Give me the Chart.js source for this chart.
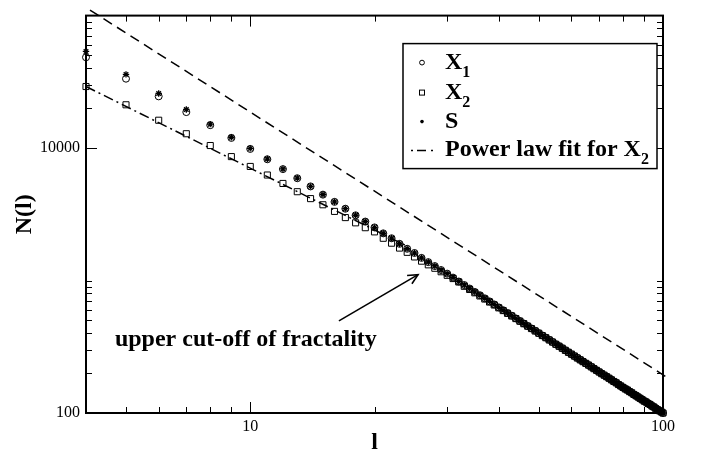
<!DOCTYPE html>
<html>
<head>
<meta charset="utf-8">
<script src="https://cdn.jsdelivr.net/npm/chart.js@4/dist/chart.umd.min.js"></script>
<style>
  html, body { margin: 0; padding: 0; background: #fff; }
  canvas { display: block; }
</style>
</head>
<body>
<canvas id="nl-canvas" width="701" height="457"></canvas>
<script>
// box size l
const lValues = [
  4, 5, 6, 7, 8, 9,
  10, 11, 12, 13, 14, 15, 16, 17, 18, 19,
  20, 21, 22, 23, 24, 25, 26, 27, 28, 29,
  30, 31, 32, 33, 34, 35, 36, 37, 38, 39,
  40, 41, 42, 43, 44, 45, 46, 47, 48, 49,
  50, 51, 52, 53, 54, 55, 56, 57, 58, 59,
  60, 61, 62, 63, 64, 65, 66, 67, 68, 69,
  70, 71, 72, 73, 74, 75, 76, 77, 78, 79,
  80, 81, 82, 83, 84, 85, 86, 87, 88, 89,
  90, 91, 92, 93, 94, 95, 96, 97, 98, 99,
  100
];

// N(l)
const x1Values = [
  48450, 33400, 24570, 18690, 14890, 11930,
  9850, 8230, 6935, 5920, 5135, 4450, 3925, 3485, 3107, 2787,
  2517, 2271, 2085, 1892, 1737, 1614, 1482, 1377, 1286, 1200,
  1127, 1052, 983, 925, 870, 820, 775, 734, 696, 660,
  627, 597, 569, 543, 518, 495, 474, 454, 435, 418,
  401, 385, 371, 357, 344, 331, 320, 309, 298, 288,
  278, 269, 261, 252, 245, 237, 230, 223, 217, 210,
  204, 199, 193, 188, 183, 178, 173, 169, 164, 160,
  156, 152, 149, 145, 142, 138, 135, 132, 129, 126,
  123, 121, 118, 116, 113, 111, 109, 106, 104, 102,
  100
];

const x2Values = [
  29150, 21220, 16220, 12830, 10450, 8620,
  7265, 6260, 5405, 4683, 4153, 3732, 3326, 2986, 2727, 2505,
  2330, 2085, 1914, 1758, 1633, 1507, 1400, 1314, 1238, 1165,
  1095, 1035, 975, 905, 856, 808, 765, 725, 688, 654,
  622, 593, 565, 540, 516, 493, 472, 452, 434, 416,
  400, 384, 370, 356, 343, 330, 319, 308, 297, 287,
  278, 269, 260, 252, 244, 237, 230, 223, 216, 210,
  204, 198, 193, 188, 183, 178, 173, 169, 164, 160,
  156, 152, 149, 145, 142, 138, 135, 132, 129, 126,
  123, 121, 118, 116, 113, 111, 108, 106, 104, 102,
  100
];

const sValues = [
  53650, 36000, 25850, 19570, 15150, 12070,
  9950, 8260, 6960, 5935, 5140, 4460, 3930, 3490, 3110, 2790,
  2520, 2275, 2088, 1895, 1740, 1616, 1484, 1379, 1288, 1202,
  1128, 1053, 984, 926, 871, 821, 776, 735, 697, 661,
  627, 597, 569, 543, 518, 495, 474, 454, 435, 418,
  401, 385, 371, 357, 344, 331, 320, 309, 298, 288,
  278, 269, 261, 252, 245, 237, 230, 223, 217, 210,
  204, 199, 193, 188, 183, 178, 173, 169, 164, 160,
  156, 152, 149, 145, 142, 138, 135, 132, 129, 126,
  123, 121, 118, 116, 113, 111, 109, 106, 104, 102,
  100
];

// straight lines (end points)
const fitX = [4, 24];
const fitY = [29150, 1816];
const guideX = [4.09, 102.8];
const guideY = [110100, 184];

// axis ticks
const xTickLabels = [10, 100];
const xMinorTicks = [5, 6, 7, 8, 9, 20, 30, 40, 50, 60, 70, 80, 90];
const yTickLabels = [100, 10000];
const yMinorTicks = [200, 300, 400, 500, 600, 700, 800, 900, 1000,
  20000, 30000, 40000, 50000, 60000, 70000, 80000, 90000];

// annotation: text anchor and arrow (data coords)
const noteText = 'upper cut-off of fractality';
const notePos = [4.7, 318];
const arrowFrom = [16.4, 496];
const arrowTo = [25.5, 1108];

const SERIF = '"Liberation Serif", "Times New Roman", serif';

function pts(xs, ys) {
  return xs.map(function (v, i) { return { x: v, y: ys[i] }; });
}

// frame + inward ticks, drawn under the markers
const framePlugin = {
  id: 'frame',
  beforeDatasetsDraw: function (chart) {
    const ctx = chart.ctx, a = chart.chartArea;
    const x = chart.scales.x, y = chart.scales.y;
    ctx.save();
    ctx.strokeStyle = '#000';
    ctx.lineWidth = 1;
    function seg(x0, y0, x1, y1) {
      ctx.beginPath(); ctx.moveTo(x0, y0); ctx.lineTo(x1, y1); ctx.stroke();
    }
    function xt(v, len) {
      const p = Math.round(x.getPixelForValue(v)) + 0.5;
      seg(p, a.bottom, p, a.bottom - len);
      seg(p, a.top, p, a.top + len);
    }
    function yt(v, len) {
      const p = Math.round(y.getPixelForValue(v)) + 0.5;
      seg(a.left, p, a.left + len, p);
      seg(a.right, p, a.right - len, p);
    }
    xMinorTicks.forEach(function (v) { xt(v, 6); });
    xTickLabels.forEach(function (v) { xt(v, 11); });
    yMinorTicks.forEach(function (v) { yt(v, 6); });
    yTickLabels.forEach(function (v) { yt(v, 11); });
    ctx.lineWidth = 2;
    ctx.strokeRect(a.left, a.top, a.right - a.left, a.bottom - a.top);
    ctx.restore();
  }
};

// legend box and annotation
const notePlugin = {
  id: 'notes',
  afterDraw: function (chart) {
    const ctx = chart.ctx, a = chart.chartArea;
    const x = chart.scales.x, y = chart.scales.y;
    ctx.save();
    ctx.strokeStyle = '#000';
    ctx.fillStyle = '#000';

    // legend
    const bx = a.right - 260, by = a.top + 28, bw = 254, bh = 125;
    ctx.fillStyle = '#fff';
    ctx.fillRect(bx, by, bw, bh);
    ctx.fillStyle = '#000';
    ctx.lineWidth = 1.5;
    ctx.strokeRect(bx, by, bw, bh);

    const mx = bx + 19, tx = bx + 42;
    const rows = [by + 25, by + 55, by + 84, by + 112];
    ctx.lineWidth = 1;
    ctx.beginPath(); ctx.arc(mx, rows[0] - 6, 2.4, 0, Math.PI * 2); ctx.stroke();
    ctx.strokeRect(mx - 2.5, rows[1] - 8.5, 5, 5);
    ctx.beginPath(); ctx.arc(mx, rows[2] - 6, 1.8, 0, Math.PI * 2); ctx.fill();
    ctx.lineWidth = 1.5;
    ctx.setLineDash([2, 4, 9, 5]);
    ctx.beginPath(); ctx.moveTo(mx - 11, rows[3] - 5); ctx.lineTo(mx + 12, rows[3] - 5); ctx.stroke();
    ctx.setLineDash([]);

    function subText(main, sub, px, py) {
      ctx.font = 'bold 24px ' + SERIF;
      ctx.fillText(main, px, py);
      const w = ctx.measureText(main).width;
      if (sub) {
        ctx.font = 'bold 16px ' + SERIF;
        ctx.fillText(sub, px + w, py + 8);
      }
    }
    ctx.textBaseline = 'alphabetic';
    ctx.textAlign = 'left';
    subText('X', '1', tx, rows[0]);
    subText('X', '2', tx, rows[1]);
    subText('S', '', tx, rows[2]);
    subText('Power law fit for X', '2', tx, rows[3]);

    // annotation text
    ctx.font = 'bold 24px ' + SERIF;
    ctx.fillText(noteText, x.getPixelForValue(notePos[0]), y.getPixelForValue(notePos[1]));

    // arrow
    const x0 = x.getPixelForValue(arrowFrom[0]), y0 = y.getPixelForValue(arrowFrom[1]);
    const x1 = x.getPixelForValue(arrowTo[0]), y1 = y.getPixelForValue(arrowTo[1]);
    const ang = Math.atan2(y1 - y0, x1 - x0);
    ctx.lineWidth = 1.6;
    ctx.beginPath(); ctx.moveTo(x0, y0); ctx.lineTo(x1, y1); ctx.stroke();
    ctx.beginPath();
    ctx.moveTo(x1 - 11 * Math.cos(ang - 0.45), y1 - 11 * Math.sin(ang - 0.45));
    ctx.lineTo(x1, y1);
    ctx.lineTo(x1 - 11 * Math.cos(ang + 0.45), y1 - 11 * Math.sin(ang + 0.45));
    ctx.stroke();
    ctx.restore();
  }
};

const tickFont = { family: SERIF, size: 16 };
const titleFont = { family: SERIF, size: 24, weight: 'bold' };

new Chart(document.getElementById('nl-canvas'), {
  type: 'scatter',
  data: {
    datasets: [
      { label: 'X1', data: pts(lValues, x1Values),
        pointStyle: 'circle', pointRadius: 3.5, borderWidth: 1,
        borderColor: '#000', backgroundColor: 'rgba(0,0,0,0)', clip: false },
      { label: 'X2', data: pts(lValues, x2Values),
        pointStyle: 'rect', pointRadius: 4.3, borderWidth: 1,
        borderColor: '#000', backgroundColor: 'rgba(0,0,0,0)', clip: false },
      { label: 'S', data: pts(lValues, sValues),
        pointStyle: 'star', pointRadius: 3.2, borderWidth: 1.3,
        borderColor: '#000', backgroundColor: '#000', clip: false },
      { label: 'Power law fit for X2', data: pts(fitX, fitY), showLine: true,
        pointRadius: 0, borderColor: '#000', borderWidth: 1.5,
        borderDash: [10, 4, 2, 4], clip: false },
      { label: 'guide', data: pts(guideX, guideY), showLine: true,
        pointRadius: 0, borderColor: '#000', borderWidth: 1.5,
        borderDash: [10, 6], clip: false }
    ]
  },
  options: {
    responsive: false,
    animation: false,
    devicePixelRatio: 1,
    layout: { padding: { left: 0, right: 38, top: 9, bottom: 0 } },
    plugins: { legend: { display: false }, tooltip: { enabled: false } },
    scales: {
      x: {
        type: 'logarithmic', min: 4, max: 100,
        grid: { display: false, drawTicks: false },
        border: { display: false },
        afterBuildTicks: function (s) { s.ticks = xTickLabels.map(function (v) { return { value: v }; }); },
        afterFit: function (s) { s.height = 44; },
        ticks: { color: '#000', font: tickFont, padding: 4, maxRotation: 0, autoSkip: false,
                 callback: function (v) { return String(v); } },
        title: { display: true, text: 'l', color: '#000', font: titleFont, padding: 0 }
      },
      y: {
        type: 'logarithmic', min: 100, max: 100000,
        grid: { display: false, drawTicks: false },
        border: { display: false },
        afterBuildTicks: function (s) { s.ticks = yTickLabels.map(function (v) { return { value: v }; }); },
        afterFit: function (s) { s.width = 86; },
        ticks: { color: '#000', font: tickFont, padding: 6, autoSkip: false,
                 callback: function (v) { return String(v); } },
        title: { display: true, text: 'N(l)', color: '#000', font: titleFont,
                 padding: { top: 10, bottom: 0 } }
      }
    }
  },
  plugins: [framePlugin, notePlugin]
});
</script>
</body>
</html>
